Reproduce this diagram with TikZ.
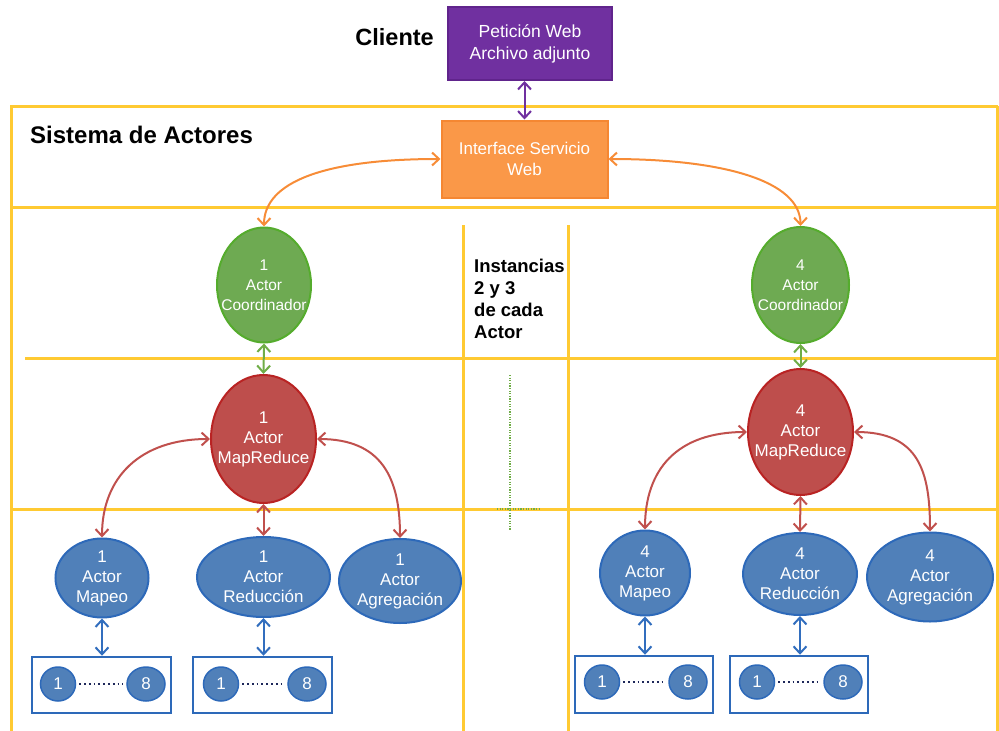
\documentclass[tikz,border=0pt]{standalone}
\usepackage{fontspec}
\setmainfont{Liberation Sans}
\usetikzlibrary{arrows.meta,shapes.geometric}

\definecolor{frameY}{RGB}{255,202,50}
\definecolor{purpF}{RGB}{112,48,160}
\definecolor{purpD}{RGB}{96,36,140}
\definecolor{orgF}{RGB}{250,152,72}
\definecolor{orgD}{RGB}{245,135,50}
\definecolor{orgA}{RGB}{247,140,55}
\definecolor{grnF}{RGB}{110,170,82}
\definecolor{grnD}{RGB}{85,172,45}
\definecolor{grnA}{RGB}{112,173,71}
\definecolor{redF}{RGB}{190,78,76}
\definecolor{redD}{RGB}{185,35,35}
\definecolor{redA}{RGB}{192,80,77}
\definecolor{bluF}{RGB}{80,128,185}
\definecolor{bluD}{RGB}{45,105,185}
\definecolor{bluA}{RGB}{50,110,190}
\definecolor{dotN}{RGB}{30,40,90}

\tikzset{
  ybar/.style={draw=frameY, line width=3pt},
  link/.style={line width=2pt, {Straight Barb[length=7pt,width=13pt]}-{Straight Barb[length=7pt,width=13pt]}},
  txtW/.style={inner sep=0pt, text=white, align=center, font=\fontsize{17}{20}\selectfont},
  txtG/.style={txtW, font=\fontsize{15.5}{20}\selectfont},
  ell/.style={ellipse, inner sep=0pt, line width=2pt},
  grnE/.style={ell, fill=grnF, draw=grnD},
  redE/.style={ell, fill=redF, draw=redD},
  bluE/.style={ell, fill=bluF, draw=bluD},
  smallE/.style={ellipse, inner sep=0pt, fill=bluF, draw=bluD, line width=1.5pt,
    text=white, font=\fontsize{17}{20}\selectfont, minimum height=34pt},
  boxB/.style={draw=bluD, line width=2.5pt, inner sep=0pt},
  recB/.style={inner sep=0pt, text=white, align=center, line width=2pt},
  dotL/.style={draw=dotN, line width=2pt, dash pattern=on 1.8pt off 3pt},
  grnDot/.style={draw=grnA, line width=1.5pt, dash pattern=on 1.2pt off 1.4pt},
  boldT/.style={font=\bfseries\fontsize{23.5}{26}\selectfont, inner sep=0pt}
}

\begin{document}
\begin{tikzpicture}[x=1pt,y=-1pt]
\useasboundingbox (0,0) rectangle (999,731);

% yellow frame
\draw[ybar] (10,106) -- (998,106);
\draw[ybar] (11.5,106) -- (11.5,731);
\draw[ybar] (997,106) -- (997,731);
\draw[ybar] (10,207) -- (998,207);
\draw[ybar] (25,358) -- (998,358);
\draw[ybar] (10,509) -- (998,509);
\draw[ybar] (463,225) -- (463,731);
\draw[ybar] (568,225) -- (568,731);

% green dotted marks
\draw[grnDot] (510,375) -- (510,530);
\draw[grnDot] (497,509) -- (541,509);

% labels
\node[boldT, anchor=east] (cli) at (434,37) {Cliente};
\node[boldT, anchor=west, font=\bfseries\fontsize{24}{26}\selectfont] (sis) at (30,135) {Sistema de Actores};
\node[anchor=west, align=left, inner sep=0pt, font=\bfseries\fontsize{18.5}{22}\selectfont] (inst) at (474,299)
  {Instancias\\2 y 3\\de cada\\Actor};

% top boxes
\node[recB, fill=purpF, draw=purpD, minimum width=164pt, minimum height=73pt,
  font=\fontsize{17.5}{22}\selectfont] (purp) at (530,43.5) {Petición Web\\Archivo adjunto};
\node[recB, fill=orgF, draw=orgD, minimum width=166pt, minimum height=77pt,
  font=\fontsize{17}{21}\selectfont] (orng) at (524.5,159) {Interface Servicio\\Web};

% left column
\node[grnE, minimum width=94pt, minimum height=115pt,
  label={[txtG]center:1\\Actor\\Coordinador}] (grnL) at (264,285) {};
\node[redE, minimum width=105pt, minimum height=128pt,
  label={[txtW]center:1\\Actor\\MapReduce}] (redL) at (263.5,439) {};
\node[bluE, minimum width=93pt, minimum height=79pt,
  label={[txtW]center:1\\Actor\\Mapeo}] (mapL) at (102,578) {};
\node[bluE, minimum width=133pt, minimum height=80pt,
  label={[txtW]center:1\\Actor\\Reducción}] (reduL) at (263.5,577) {};
\node[bluE, minimum width=122pt, minimum height=84pt,
  label={[txtW]center:1\\Actor\\Agregación}] (agrL) at (400,581) {};

% right column
\node[grnE, minimum width=97pt, minimum height=116pt,
  label={[txtG]center:4\\Actor\\Coordinador}] (grnR) at (800.5,285) {};
\node[redE, minimum width=105pt, minimum height=126pt,
  label={[txtW]center:4\\Actor\\MapReduce}] (redR) at (800.5,432) {};
\node[bluE, minimum width=90pt, minimum height=85pt,
  label={[txtW]center:4\\Actor\\Mapeo}] (mapR) at (645,573) {};
\node[bluE, minimum width=114pt, minimum height=82pt,
  label={[txtW]center:4\\Actor\\Reducción}] (reduR) at (800,574) {};
\node[bluE, minimum width=126pt, minimum height=89pt,
  label={[txtW]center:4\\Actor\\Agregación}] (agrR) at (930,577) {};

% worker boxes
\node[boxB, minimum width=139pt, minimum height=56pt] (bxL1) at (101.5,685) {};
\node[boxB, minimum width=139pt, minimum height=56pt] (bxL2) at (262.5,685) {};
\node[boxB, minimum width=138pt, minimum height=57pt] (bxR1) at (644,684.5) {};
\node[boxB, minimum width=138pt, minimum height=57pt] (bxR2) at (799,684.5) {};

\node[smallE, minimum width=35pt] (cL1a) at (58,684) {1};
\node[smallE, minimum width=38pt] (cL1b) at (146,684) {8};
\node[smallE, minimum width=35pt] (cL2a) at (221,684) {1};
\node[smallE, minimum width=38pt] (cL2b) at (307,684) {8};
\node[smallE, minimum width=35pt] (cR1a) at (602,682) {1};
\node[smallE, minimum width=38pt] (cR1b) at (688,682) {8};
\node[smallE, minimum width=35pt] (cR2a) at (757,682) {1};
\node[smallE, minimum width=38pt] (cR2b) at (843,682) {8};

\draw[dotL] ([xshift=3pt]cL1a.east) -- ([xshift=-3pt]cL1b.west);
\draw[dotL] ([xshift=3pt]cL2a.east) -- ([xshift=-3pt]cL2b.west);
\draw[dotL] ([xshift=3pt]cR1a.east) -- ([xshift=-3pt]cR1b.west);
\draw[dotL] ([xshift=3pt]cR2a.east) -- ([xshift=-3pt]cR2b.west);

% connectors
\draw[link, draw=purpF] (orng.north |- purp.south) -- (orng.north);
\draw[link, draw=orgA] (orng.west) .. controls +(-115,0) and +(0,-45) .. (grnL.north);
\draw[link, draw=orgA] (orng.east) .. controls +(115,0) and +(0,-45) .. (grnR.north);
\draw[link, draw=grnA] (grnL.south) -- (redL.north);
\draw[link, draw=grnA] (grnR.south) -- (redR.north);

\draw[link, draw=redA] (redL.west) .. controls +(-70,0) and +(0,-60) .. (mapL.north);
\draw[link, draw=redA] (redL.east) .. controls +(65,0) and +(0,-60) .. (agrL.north);
\draw[link, draw=redA] (redL.south) -- (reduL.north);
\draw[link, draw=redA] (redR.west) .. controls +(-70,0) and +(0,-60) .. (mapR.north);
\draw[link, draw=redA] (redR.east) .. controls +(65,0) and +(0,-60) .. (agrR.north);
\draw[link, draw=redA] (redR.south) -- (reduR.north);

\draw[link, draw=bluA] (mapL.south) -- (mapL.south |- bxL1.north);
\draw[link, draw=bluA] (reduL.south) -- (reduL.south |- bxL2.north);
\draw[link, draw=bluA] (mapR.south) -- (mapR.south |- bxR1.north);
\draw[link, draw=bluA] (reduR.south) -- (reduR.south |- bxR2.north);
\end{tikzpicture}
\end{document}
